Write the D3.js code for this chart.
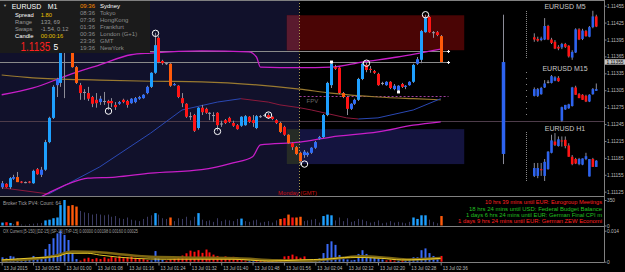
<!DOCTYPE html>
<meta charset="utf-8">
<style>
  body { margin: 0; background: #000; }
  svg { display: block; font-family: "Liberation Sans", Arial, sans-serif; }
</style>
<svg width="625" height="272"></svg>
<script src="https://d3js.org/d3.v7.min.js"></script>
<script>

// quotes are kept in points above 1.11000 (355 -> 1.11355)
var base = 1.11;

// EURUSD M1, 00:44 .. 02:36
var barOpen  = [133,139,133,148,151,143,142,143,140,165, 155,164,213,256,314,318,373,392,380,346,
                314,302,300,293,288,284,285,286,286,279, 281,288,286,282,284,290,291,300,311,336,
                398,357,353,352,314,313,291,281,258,261, 238,274,272,265,261,265,245,252,256,247,
                243,242,243,258,252,238,259,260,261,258, 252,247,240,226,211,204,194,190,190,194,
                203,219,222,261,314,346,345,300,293,272, 281,288,325,350,343,339,334,318,314,320,
                307,305,316,311,314,320,352,359,408,435, 407,408,401];
var barHigh  = [144,140,151,155,160,144,143,144,164,167, 169,217,258,314,327,394,394,400,387,348,
                318,307,311,295,300,295,302,288,291,284, 286,290,288,291,293,295,298,313,337,407,
                401,359,355,353,318,314,300,282,266,263, 275,279,274,266,266,266,251,254,258,251,
                245,259,261,259,261,261,261,263,265,259, 254,249,242,227,213,206,196,199,196,204,
                215,224,263,320,355,350,346,302,295,282, 290,327,355,355,348,341,336,320,321,321,
                316,314,318,314,321,352,364,412,439,437, 410,410,403];
var barLow   = [130,132,130,146,142,140,140,140,139,155, 151,162,211,254,293,311,291,378,345,316,
                288,288,286,275,274,279,279,270,275,270, 279,282,274,281,282,288,290,298,309,334,
                353,350,350,311,313,291,275,256,252,231, 235,261,263,252,249,233,240,245,247,240,
                235,240,242,247,240,236,256,258,254,252, 245,229,224,210,199,190,172,185,187,192,
                201,217,220,259,309,341,298,291,261,270, 279,286,323,337,336,334,313,314,313,307,
                305,302,309,307,313,318,350,353,407,407, 398,401,355];
var barClose = [140,133,149,151,142,141,141,141,162,156, 164,213,256,311,325,385,387,387,346,318,
                300,301,290,281,282,290,286,282,282,275, 284,284,279,290,291,293,297,311,336,385,
                355,353,352,313,316,293,282,258,259,233, 274,266,265,264,260,243,246,247,249,242,
                236,258,259,249,247,259,258,261,256,254, 247,231,226,211,204,192,179,196,194,203,
                213,222,261,318,352,343,300,293,272,281, 288,325,352,341,341,336,314,317,320,309,
                313,313,311,313,320,350,360,410,433,408, 408,403,355];
var orangeBars = [4, 17, 18, 19, 43, 71, 73, 75, 76, 87, 112];

// indicator lines, read at a few bars
var bandUpBar = [0, 8, 17, 25, 33, 38, 51, 63, 65, 66, 76, 84, 92, 101, 112];
var bandUpVal = [297, 309, 332, 350, 368, 371, 375, 373, 364, 346, 345, 346, 355, 364, 378];
var bandLoBar = [10, 12, 17, 22, 29, 38, 51, 59, 64, 66, 76, 84, 96, 105, 112];
var bandLoVal = [116, 123, 139, 149, 151, 158, 164, 176, 187, 208, 213, 222, 231, 243, 249];
var slowBar = [0, 12, 25, 38, 46, 55, 61, 68, 71, 76, 79, 88, 91, 96, 105, 112];
var slowVal = [132, 121, 169, 229, 270, 284, 290, 284, 279, 274, 270, 256, 254, 256, 270, 290];
var tanBar = [0, 8, 25, 38, 51, 76, 84, 96, 105, 112];
var tanVal = [332, 327, 323, 321, 320, 307, 300, 293, 290, 288];

var swingBar = [27, 39, 55, 68, 77, 93, 108];
var swingVal = [268, 406, 232, 261, 174, 353, 439];
var markBar = [84, 101];
var markVal = [355, 302];

var zoneHi = [438, 236];
var zoneLo = [376, 174];
var zoneFrom = 73, zoneTo = 118;
var levelLines = [375, 355];
var levelEndBar = 114;
var roundLevel = 250;
var fpvLevel = 295;
var sessionBar = 76;

var bigBar = 128;
var bigOHLC = [192, 439, 174, 355];

// small multi-timeframe charts
var m5Open   = [399,396,394,395,419,395,391,382,381,387,384,363,372,413,396,410,400,417,436];
var m5High   = [406,400,400,433,421,398,394,385,389,389,385,376,415,415,414,412,419,446,439];
var m5Low    = [391,391,392,394,394,387,378,376,378,380,363,359,371,394,394,400,399,415,417];
var m5Close  = [395,393,397,419,395,389,379,379,387,382,365,373,413,395,411,401,417,436,418];
var m15Open  = [295,295,298,310,319,318,322,327,251,271,273,277,310,298,297,295,285,298,304];
var m15High  = [310,309,311,323,323,332,330,330,276,279,281,311,313,300,298,297,298,309,317];
var m15Low   = [294,293,297,309,317,317,321,320,249,270,272,276,297,291,288,284,284,297,304];
var m15Close = [307,307,309,317,320,330,328,321,275,279,280,310,297,291,288,285,297,307,307];
var h1Open   = [153,153,165,153,165,194,214,206,216,217,207,187,183,174,173,183,152,183,169];
var h1High   = [176,176,176,183,197,226,229,223,223,223,211,190,185,185,184,194,183,185,181];
var h1Low    = [151,149,153,144,164,193,206,205,205,202,187,172,174,172,172,181,152,169,169];
var h1Close  = [167,167,163,178,196,216,208,218,214,206,187,174,175,183,184,188,183,169,180];
var miniTitles = ["EURUSD M5", "EURUSD M15", "EURUSD H1"];

var priceTicks = [1.11125, 1.11155, 1.11185, 1.11215, 1.11245, 1.11275,
                  1.11305, 1.11335, 1.11365, 1.11395, 1.11425, 1.11455];
var bidPrice = 1.11355;

// Broker Tick PV4
var tickVol = [40,45,35,20,55,15,10,20,25,30, 35,70,80,100,110,280,350,270,280,260,
               200,180,170,150,160,150,140,150,120,130, 100,90,110,80,70,60,90,120,140,170,
               150,100,90,110,60,100,90,120,70,120, 170,80,60,70,50,100,60,80,70,60,
               90,95,60,50,70,80,40,50,60,40, 70,90,100,150,110,110,120,60,70,80,
               90,40,130,150,140,70,110,60,100,50, 60,90,80,60,40,50,70,30,40,60,
               40,50,40,30,50,110,90,140,140,80, 50,30,130];
var hotBars = [0,1,2,4,11,12,13,14,15,16,17,18,19,39,43,50,61,71,72,73,74,75,76,82,83,84,105,106,107,108,112];

// OX Current, in 0.001
var oxHist = [2.0,1.5,2.6,2.3,1.5,1.2,1.5,0.8,2.6,2.0, 2.0,5.7,8.0,10.6,12.8,14.0,12.1,9.8,3.9,1.2,
              -0.5,-1.4,-1.8,-1.2,-1.6,-1.2,-2.0,-1.4,-2.2,-1.8, -2.4,-1.6,-2.0,-2.4,-1.8,-1.4,-1.2,-0.8,0.6,4.8,
              1.5,0.9,-0.5,-1.0,-1.4,-2.2,-2.8,-3.8,-5.0,-4.5, -5.2,-4.0,-5.5,-4.2,-3.2,-2.6,-1.8,-2.4,-1.6,-2.2,
              -1.2,-0.8,-0.5,0.4,0.3,-0.3,-0.4,-0.6,-0.5,-0.3, -0.4,-1.2,-2.4,-2.6,-3.2,-2.4,-1.8,-2.4,0.4,0.6,
              1.0,1.5,3.9,8.0,9.2,7.6,3.0,1.8,1.0,0.6, 0.8,3.5,5.2,3.5,2.6,2.0,1.4,1.0,-0.6,-0.8,
              -0.5,0.4,-0.6,0.5,1.2,2.0,2.0,5.2,6.0,3.9, 2.6,1.4,-2.6];
var oxSigBar = [0, 8, 14, 17, 22, 25, 34, 42, 59, 68, 76, 83, 89, 97, 102, 112];
var oxSigVal = [0.8, 1.7, 2.3, 3.8, 3.8, 3.0, 1.5, 1.1, 1.1, 0.3, 0.8, 1.2, 2.0, 1.5, 0.8, 1.5];
var oxTrBar  = [0, 8, 14, 18, 24, 30, 38, 50, 60, 70, 78, 86, 92, 98, 104, 112];
var oxTrVal  = [0.5, 1.2, 2.8, 4.6, 4.4, 3.4, 2.2, 1.8, 1.5, 0.6, 0.4, 1.6, 2.4, 1.8, 1.0, 1.6];

var timeTickBars = [0, 8, 16, 24, 32, 40, 48, 56, 64, 72, 80, 88, 96, 104, 112];
var timeTickLabels = ["13 Jul 2015", "13 Jul 00:52", "13 Jul 01:00", "13 Jul 01:08", "13 Jul 01:16",
                      "13 Jul 01:24", "13 Jul 01:32", "13 Jul 01:40", "13 Jul 01:48", "13 Jul 01:56",
                      "13 Jul 02:04", "13 Jul 02:12", "13 Jul 02:20", "13 Jul 02:28", "13 Jul 02:36"];

var eventTexts = ["10 hrs 39 mins until EUR: Eurogroup Meetings",
                  "18 hrs 24 mins until USD: Federal Budget Balance",
                  "1 days 6 hrs 24 mins until EUR: German Final CPI m",
                  "1 days 9 hrs 24 mins until EUR: German ZEW Economi"];
var eventHigh = [true, false, false, true];

var infoLabels = ["Spread", "Range", "Swaps", "Candle"];
var infoValues = ["1.80", "133, 69", "-1.54, 0.12", "00:00:16"];
var sessionTimes = ["09:36", "08:36", "07:36", "01:36", "00:36", "23:36", "19:36"];
var sessionNames = ["Sydney", "Tokyo", "HongKong", "Frankfurt", "London (G+1)", "GMT", "NewYork"];


var svg = d3.select("svg"),
    W = 625, H = 272,
    axisX = 604.5,
    mainBottom = 196.5, p1Bottom = 226.5, p2Bottom = 262.5;

var x = d3.scaleLinear().domain([0, 112]).range([1.7, 440.7]);
var y = d3.scaleLinear().domain([1.11125, 1.11455]).range([191.7, 5.7]);
function py(pts) { return y(base + pts / 1e5); }
function cx(i) { return Math.round(x(i)) + 0.5; }

svg.append("rect").attr("width", W).attr("height", H).attr("fill", "#000");

svg.append("defs").append("clipPath").attr("id", "mainClip")
    .append("rect").attr("width", axisX).attr("height", mainBottom);

var g = svg.append("g").attr("clip-path", "url(#mainClip)");

// previous session shading
g.append("rect").attr("width", x(sessionBar)).attr("height", mainBottom).attr("fill", "#11112b");

// supply / demand zones
var zoneFill = [["#4a0505", "#5a1a2e"], ["#14143f", "#262b26"]];
zoneHi.forEach(function(hi, k) {
    var x0 = x(zoneFrom) - 1, x1 = x(zoneTo), y0 = py(hi), y1 = py(zoneLo[k]);
    g.append("rect").attr("x", x0).attr("y", y0).attr("width", x1 - x0).attr("height", y1 - y0)
        .attr("fill", zoneFill[k][0]);
    g.append("rect").attr("x", x0).attr("y", y0).attr("width", x(sessionBar) - x0).attr("height", y1 - y0)
        .attr("fill", zoneFill[k][1]);
});

g.append("line")
    .attr("x1", 0).attr("x2", axisX)
    .attr("y1", Math.round(py(roundLevel)) + 0.5).attr("y2", Math.round(py(roundLevel)) + 0.5)
    .attr("stroke", "#4e3c4a");

levelLines.forEach(function(v) {
    var yy = Math.round(py(v)) + 0.5;
    g.append("line").attr("x1", 0).attr("x2", x(levelEndBar)).attr("y1", yy).attr("y2", yy)
        .attr("stroke", "#8a8a8a");
    g.append("path").attr("d", "M" + (x(levelEndBar) - 1.5) + "," + yy + "h3M" + x(levelEndBar) + "," + (yy - 1.5) + "v3")
        .attr("stroke", "#fff");
});

// FPV level
var fy = Math.round(py(fpvLevel)) + 0.5;
g.append("line").attr("x1", x(sessionBar)).attr("x2", x(levelEndBar)).attr("y1", fy).attr("y2", fy)
    .attr("stroke", "#a040a0").attr("stroke-dasharray", "2,2");
g.append("text").attr("x", x(sessionBar) + 7).attr("y", fy + 6).attr("fill", "#6a6a6a")
    .attr("font-size", 6).text("FPV");

function knots(bars, vals) { return bars.map(function(b, k) { return [b, vals[k]]; }); }
var curve = d3.line().x(function(d) { return x(d[0]); }).y(function(d) { return py(d[1]); })
    .curve(d3.curveMonotoneX);
var straight = d3.line().x(function(d) { return x(d[0]); }).y(function(d) { return py(d[1]); });

g.append("path").datum(knots(tanBar, tanVal)).attr("d", curve)
    .attr("fill", "none").attr("stroke", "#9a7a30").attr("stroke-width", 1.2);

var slow = knots(slowBar, slowVal);
for (var k = 0; k < slow.length - 1; k++) {
    g.append("path").datum([slow[k], slow[k + 1]]).attr("d", straight)
        .attr("fill", "none").attr("stroke-width", 1)
        .attr("stroke", slow[k + 1][1] >= slow[k][1] ? "#2a48b4" : "#8c1a3c");
}

[knots(bandUpBar, bandUpVal), knots(bandLoBar, bandLoVal)].forEach(function(band) {
    g.append("path").datum(band).attr("d", curve)
        .attr("fill", "none").attr("stroke", "#c81ec8").attr("stroke-width", 1.3);
});

// session divider
g.append("line")
    .attr("x1", Math.round(x(sessionBar)) - 0.5).attr("x2", Math.round(x(sessionBar)) - 0.5)
    .attr("y1", 0).attr("y2", mainBottom)
    .attr("stroke", "#a89850").attr("stroke-dasharray", "1,2");

g.append("text").attr("x", x(sessionBar) - 21.5).attr("y", mainBottom - 1.5)
    .attr("fill", "#cc1010").attr("font-size", 5.8).text("Monday  (GMT)");

// candles
function makeBars(o, h, l, c) {
    return o.map(function(v, i) { return {i: i, o: v, h: h[i], l: l[i], c: c[i]}; });
}
var candles = makeBars(barOpen, barHigh, barLow, barClose);

function candleColor(d) {
    var body = Math.abs(d.c - d.o);
    if (body <= 1) return "#9a9aa8";
    if (d.c > d.o) return body >= 14 ? "#1ea0ff" : "#2f6cf5";
    return orangeBars.indexOf(d.i) >= 0 ? "#ff5a0a" : "#ff1414";
}

function drawCandles(sel, data, xf, w, colorFn) {
    var c = sel.selectAll(null).data(data).enter().append("g");
    c.append("line")
        .attr("x1", xf).attr("x2", xf)
        .attr("y1", function(d) { return py(d.h); })
        .attr("y2", function(d) { return py(d.l); })
        .attr("stroke", "#8c8c98");
    c.append("rect")
        .attr("x", function(d) { return xf(d) - w / 2; })
        .attr("y", function(d) { return py(Math.max(d.o, d.c)); })
        .attr("width", w)
        .attr("height", function(d) { return Math.max(1, py(Math.min(d.o, d.c)) - py(Math.max(d.o, d.c))); })
        .attr("fill", colorFn);
}

drawCandles(g, candles, function(d) { return cx(d.i); }, 3, candleColor);

// swing circles
swingBar.forEach(function(b, k) {
    g.append("circle").attr("cx", cx(b)).attr("cy", py(swingVal[k])).attr("r", 3.2)
        .attr("fill", "none").attr("stroke", "#fff").attr("stroke-width", 1);
});
markBar.forEach(function(b, k) {
    g.append("rect").attr("x", cx(b) - 1.5).attr("y", py(markVal[k]) - 1.5)
        .attr("width", 3).attr("height", 3).attr("fill", "#fff");
});

// higher timeframe candle
drawCandles(g, [{i: bigBar, o: bigOHLC[0], h: bigOHLC[1], l: bigOHLC[2], c: bigOHLC[3]}],
    function(d) { return cx(d.i); }, 3.5, function() { return "#2d63f0"; });

// mini charts
var mx = d3.scaleLinear().domain([0, 18]).range([534.3, 596.3]);
var minis = [
    makeBars(m5Open, m5High, m5Low, m5Close),
    makeBars(m15Open, m15High, m15Low, m15Close),
    makeBars(h1Open, h1High, h1Low, h1Close)
];
var miniTitleY = [9, 70.6, 131.3];
var miniScale = [[11, 59, "1,1"], [72, 117, "1,5"], [132, 182, "1,1"]];
minis.forEach(function(data, k) {
    g.append("line").attr("x1", 526.5).attr("x2", 526.5)
        .attr("y1", miniScale[k][0]).attr("y2", miniScale[k][1])
        .attr("stroke", "#888").attr("stroke-dasharray", miniScale[k][2]);
    drawCandles(g, data, function(d) { return mx(d.i); }, 2.6, function(d) {
        if (Math.abs(d.c - d.o) <= 1) return "#9a9aa8";
        return d.c > d.o ? "#2d63ee" : "#ff1414";
    });
    g.append("text").attr("x", 565).attr("y", miniTitleY[k]).attr("text-anchor", "middle")
        .attr("fill", "#c8c8c8").attr("font-size", 7).text(miniTitles[k]);
});

// info box
var info = svg.append("g");
info.append("rect").attr("width", 150).attr("height", 53).attr("fill", "#1b1b1b");
info.append("text").attr("x", 3).attr("y", 6.5).attr("fill", "#aaa").attr("font-size", 4).text("\u25BC");
info.append("text").attr("x", 11.7).attr("y", 8.7).attr("fill", "#fff").attr("font-size", 7).text("EURUSD");
info.append("text").attr("x", 47.7).attr("y", 8.7).attr("fill", "#fff").attr("font-size", 7).text("M1");
var rowY = [17.4, 24.4, 31.4, 38.2];
var labelCol = ["#fff", "#9a9a9a", "#9a9a9a", "#fff"];
var valueCol = ["#e8c000", "#9a9a9a", "#9a9a9a", "#e8c000"];
infoLabels.forEach(function(t, k) {
    info.append("text").attr("x", 15).attr("y", rowY[k]).attr("fill", labelCol[k]).attr("font-size", 5.8).text(t);
    info.append("text").attr("x", 40.7).attr("y", rowY[k]).attr("fill", valueCol[k]).attr("font-size", 5.8).text(infoValues[k]);
});
var bidText = d3.format(".5f")(bidPrice);
info.append("text").attr("transform", "translate(20.5,50.7) scale(1,1.2)")
    .attr("fill", "#ff2020").attr("font-size", 10).text(bidText.slice(0, 6));
info.append("text").attr("x", 53.5).attr("y", 50.4).attr("fill", "#fff").attr("font-size", 8.5)
    .text(bidText.slice(6));
var sessY = [8.1, 15.4, 22.4, 29.1, 36.1, 42.8, 49.8];
sessionTimes.forEach(function(t, k) {
    info.append("text").attr("x", 80).attr("y", sessY[k]).attr("font-size", 6)
        .attr("fill", k === 0 ? "#ff8c00" : "#8c8c8c").text(t);
    info.append("text").attr("x", 100).attr("y", sessY[k]).attr("font-size", 6)
        .attr("fill", k === 0 ? "#fff" : "#8c8c8c").text(sessionNames[k]);
});

// ---- Broker Tick PV4 panel
var y1 = d3.scaleLinear().domain([0, 350]).range([225.5, 200]);
var p1 = svg.append("g");
tickVol.forEach(function(v, i) {
    var d = candles[i], hot = hotBars.indexOf(i) >= 0;
    var col = "#3a3a62", w = 1;
    if (hot) {
        w = 2.4;
        col = d.c >= d.o ? "#1ea0ff" : (orangeBars.indexOf(i) >= 0 ? "#ff5a0a" : "#ff1414");
    }
    p1.append("rect").attr("x", cx(i) - w / 2).attr("y", y1(v))
        .attr("width", w).attr("height", y1(0) - y1(v)).attr("fill", col);
});
p1.append("text").attr("x", 3).attr("y", 205).attr("fill", "#a0a0a0").attr("font-size", 4.8)
    .text("Broker Tick PV4:    Count: 64");
eventTexts.forEach(function(t, k) {
    p1.append("text").attr("x", 602).attr("y", 204.3 + k * 6.35).attr("text-anchor", "end")
        .attr("font-size", 5.6).attr("fill", eventHigh[k] ? "#ff2020" : "#22c022")
        .attr("textLength", [117, 133, 136, 144][k]).attr("lengthAdjust", "spacingAndGlyphs")
        .text(t);
});

// ---- OX Current panel
var y2 = d3.scaleLinear().domain([0, 0.014]).range([261.7, 230.7]);
var p2 = svg.append("g");
oxHist.forEach(function(v, i) {
    var a = Math.abs(v) * 0.001;
    p2.append("rect").attr("x", cx(i) - 1).attr("y", y2(a))
        .attr("width", 2).attr("height", y2(0) - y2(a))
        .attr("fill", v >= 0 ? "#3a6af5" : "#ff1010");
});
var oxLine = d3.line().x(function(d) { return x(d[0]); }).y(function(d) { return y2(d[1] * 0.001); })
    .curve(d3.curveMonotoneX);
p2.append("path").datum(knots(oxTrBar, oxTrVal)).attr("d", oxLine)
    .attr("fill", "none").attr("stroke", "#7c6612").attr("stroke-width", 2.6);
p2.append("path").datum(knots(oxSigBar, oxSigVal)).attr("d", oxLine)
    .attr("fill", "none").attr("stroke", "#e8c828").attr("stroke-width", 1);
p2.append("text").attr("x", 3).attr("y", 232.6).attr("fill", "#a0a0a0").attr("font-size", 4.6)
    .attr("textLength", 135).attr("lengthAdjust", "spacingAndGlyphs")
    .text("OX Current [5-150] [DZ-15] [SP-15] [TrP-15] 0.00000 0.00198 0.00160 0.00025");

// frame lines
[0.5, mainBottom, p1Bottom, p2Bottom].forEach(function(yy) {
    svg.append("line").attr("x1", 0).attr("x2", axisX).attr("y1", yy).attr("y2", yy).attr("stroke", "#808080");
});
svg.append("line").attr("x1", axisX).attr("x2", axisX).attr("y1", 0).attr("y2", p2Bottom).attr("stroke", "#808080");

// axes
function styleAxis(sel, size) {
    sel.select(".domain").remove();
    sel.selectAll("line").attr("stroke", "#808080");
    sel.selectAll("text").attr("fill", "#bdbdbd").attr("font-size", size)
        .attr("font-family", "Liberation Sans, Arial, sans-serif");
}

svg.append("g").attr("transform", "translate(" + axisX + ",0)")
    .call(d3.axisRight(y).tickValues(priceTicks).tickFormat(d3.format(".5f")).tickSize(2).tickPadding(0.5))
    .call(styleAxis, 4.8);

var bidY = y(bidPrice);
svg.append("rect").attr("x", axisX + 0.5).attr("y", bidY - 2.8).attr("width", 20).attr("height", 5.4).attr("fill", "#c4c4c4");
svg.append("text").attr("x", axisX + 2).attr("y", bidY + 1.7).attr("fill", "#000").attr("font-size", 4.8).text(bidText);

svg.append("g").attr("transform", "translate(" + axisX + ",0)")
    .call(d3.axisRight(y1).tickValues([0, 350]).tickSize(2).tickPadding(0.5))
    .call(styleAxis, 4.8);

svg.append("g").attr("transform", "translate(" + axisX + ",0)")
    .call(d3.axisRight(y2).tickValues([0, 0.014]).tickSize(2).tickPadding(0.5)
        .tickFormat(function(d) { return d === 0 ? "0" : d3.format(".3f")(d); }))
    .call(styleAxis, 4.8);

svg.append("g").attr("transform", "translate(0," + p2Bottom + ")")
    .call(d3.axisBottom(x).tickValues(timeTickBars).tickSize(3)
        .tickFormat(function(d, k) { return timeTickLabels[k]; }))
    .call(styleAxis, 4.6)
    .selectAll("text").attr("text-anchor", "start").attr("x", 1.5).attr("y", 4);

</script>
